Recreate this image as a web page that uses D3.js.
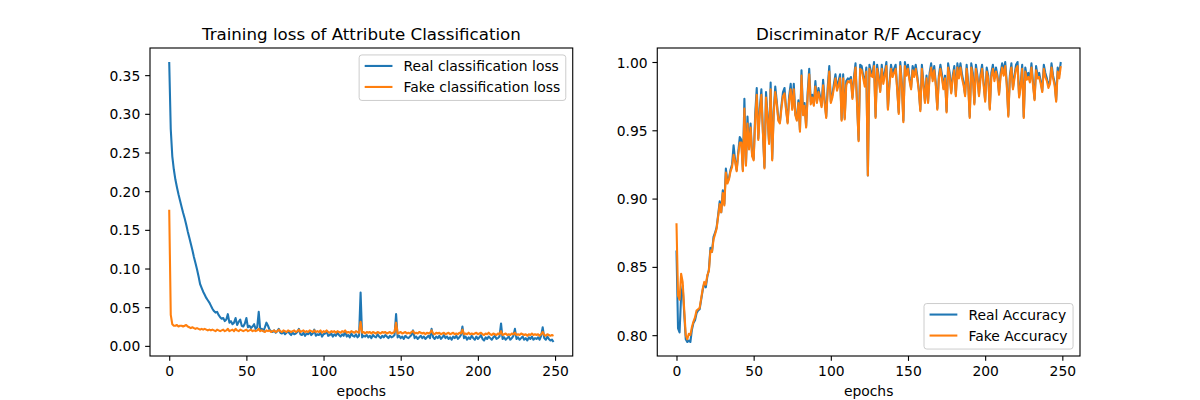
<!DOCTYPE html>
<html>
<head>
<meta charset="utf-8">
<script src="https://cdn.jsdelivr.net/npm/d3@7"></script>
<style>
  body { margin: 0; background: #fff; }
  svg { font-family: 'DejaVu Sans', sans-serif; }
</style>
</head>
<body>
<div id="graph-div"></div>
<script>
// values, one per epoch (0..249)
const realLoss = [
  0.367, 0.280, 0.245, 0.228, 0.215, 0.205, 0.196, 0.188, 0.180, 0.172,
  0.165, 0.157, 0.148, 0.140, 0.132, 0.124, 0.115, 0.107, 0.099, 0.090,
  0.080, 0.075, 0.070, 0.066, 0.062, 0.059, 0.056, 0.052, 0.048, 0.045,
  0.043, 0.044, 0.040, 0.037, 0.035, 0.036, 0.032, 0.034, 0.041, 0.030,
  0.032, 0.028, 0.030, 0.036, 0.027, 0.031, 0.034, 0.026, 0.025, 0.029,
  0.036, 0.024, 0.026, 0.023, 0.025, 0.028, 0.022, 0.024, 0.044, 0.020,
  0.022, 0.019, 0.024, 0.030, 0.026, 0.021, 0.019, 0.018, 0.020, 0.017,
  0.019, 0.022, 0.017, 0.016, 0.018, 0.015, 0.017, 0.019, 0.016, 0.014,
  0.017, 0.015, 0.016, 0.018, 0.022, 0.015, 0.014, 0.017, 0.013, 0.016,
  0.015, 0.018, 0.014, 0.016, 0.021, 0.013, 0.015, 0.014, 0.017, 0.012,
  0.015, 0.016, 0.019, 0.013, 0.014, 0.016, 0.012, 0.015, 0.013, 0.017,
  0.014, 0.012, 0.015, 0.013, 0.019, 0.012, 0.014, 0.011, 0.016, 0.013,
  0.012, 0.015, 0.011, 0.013, 0.069, 0.011, 0.013, 0.012, 0.014, 0.011,
  0.013, 0.010, 0.014, 0.012, 0.011, 0.015, 0.012, 0.010, 0.013, 0.011,
  0.014, 0.012, 0.010, 0.013, 0.011, 0.012, 0.014, 0.041, 0.011, 0.013,
  0.010, 0.012, 0.009, 0.013, 0.011, 0.010, 0.012, 0.014, 0.020, 0.010,
  0.012, 0.009, 0.011, 0.013, 0.010, 0.012, 0.009, 0.011, 0.013, 0.010,
  0.022, 0.011, 0.009, 0.012, 0.010, 0.013, 0.009, 0.011, 0.014, 0.010,
  0.012, 0.009, 0.011, 0.008, 0.012, 0.010, 0.013, 0.009, 0.011, 0.014,
  0.025, 0.010, 0.012, 0.008, 0.011, 0.009, 0.013, 0.010, 0.008, 0.012,
  0.009, 0.011, 0.014, 0.009, 0.007, 0.011, 0.009, 0.012, 0.010, 0.008,
  0.011, 0.013, 0.009, 0.010, 0.012, 0.029, 0.009, 0.011, 0.008, 0.010,
  0.012, 0.008, 0.010, 0.013, 0.022, 0.009, 0.011, 0.008, 0.010, 0.012,
  0.008, 0.010, 0.007, 0.011, 0.009, 0.012, 0.008, 0.010, 0.009, 0.011,
  0.008, 0.013, 0.024, 0.010, 0.008, 0.012, 0.009, 0.007, 0.008, 0.005
];

const fakeLoss = [
  0.176, 0.040, 0.028, 0.026, 0.026, 0.027, 0.025, 0.026, 0.026, 0.025,
  0.026, 0.027, 0.025, 0.024, 0.023, 0.024, 0.023, 0.022, 0.023, 0.022,
  0.021, 0.022, 0.021, 0.022, 0.021, 0.020, 0.021, 0.020, 0.021, 0.020,
  0.019, 0.021, 0.020, 0.019, 0.020, 0.021, 0.019, 0.020, 0.022, 0.019,
  0.020, 0.021, 0.019, 0.022, 0.020, 0.019, 0.021, 0.020, 0.019, 0.020,
  0.021, 0.019, 0.020, 0.021, 0.019, 0.020, 0.019, 0.020, 0.022, 0.019,
  0.020, 0.019, 0.018, 0.020, 0.019, 0.020, 0.018, 0.019, 0.020, 0.018,
  0.019, 0.021, 0.019, 0.018, 0.020, 0.019, 0.018, 0.020, 0.019, 0.018,
  0.019, 0.020, 0.018, 0.019, 0.021, 0.018, 0.019, 0.020, 0.018, 0.019,
  0.018, 0.020, 0.019, 0.018, 0.020, 0.018, 0.019, 0.018, 0.020, 0.017,
  0.019, 0.018, 0.020, 0.018, 0.017, 0.019, 0.018, 0.019, 0.017, 0.019,
  0.018, 0.017, 0.019, 0.018, 0.020, 0.017, 0.018, 0.017, 0.019, 0.018,
  0.017, 0.019, 0.018, 0.017, 0.031, 0.017, 0.018, 0.016, 0.018, 0.017,
  0.018, 0.016, 0.018, 0.017, 0.016, 0.018, 0.017, 0.016, 0.018, 0.017,
  0.018, 0.016, 0.017, 0.018, 0.016, 0.017, 0.018, 0.030, 0.016, 0.017,
  0.018, 0.016, 0.017, 0.018, 0.016, 0.017, 0.016, 0.018, 0.019, 0.016,
  0.017, 0.016, 0.018, 0.017, 0.016, 0.017, 0.015, 0.017, 0.016, 0.017,
  0.020, 0.016, 0.015, 0.017, 0.016, 0.017, 0.015, 0.016, 0.017, 0.015,
  0.016, 0.017, 0.015, 0.016, 0.017, 0.015, 0.016, 0.015, 0.017, 0.016,
  0.021, 0.015, 0.016, 0.015, 0.017, 0.015, 0.016, 0.015, 0.016, 0.017,
  0.015, 0.016, 0.017, 0.015, 0.014, 0.016, 0.015, 0.017, 0.015, 0.014,
  0.016, 0.015, 0.014, 0.016, 0.015, 0.019, 0.014, 0.015, 0.016, 0.014,
  0.015, 0.014, 0.016, 0.015, 0.017, 0.014, 0.015, 0.014, 0.016, 0.015,
  0.014, 0.015, 0.013, 0.015, 0.014, 0.016, 0.014, 0.015, 0.014, 0.015,
  0.013, 0.015, 0.018, 0.014, 0.013, 0.015, 0.014, 0.013, 0.014, 0.013
];

const realAcc = [
  0.862, 0.805, 0.802, 0.829, 0.836, 0.816, 0.797, 0.795, 0.796, 0.795,
  0.804, 0.809, 0.811, 0.816, 0.818, 0.819, 0.826, 0.833, 0.838, 0.835,
  0.843, 0.848, 0.864, 0.861, 0.872, 0.875, 0.879, 0.888, 0.898, 0.890,
  0.906, 0.896, 0.922, 0.912, 0.915, 0.921, 0.925, 0.939, 0.928, 0.921,
  0.934, 0.945, 0.943, 0.921, 0.973, 0.925, 0.960, 0.937, 0.955, 0.932,
  0.929, 0.962, 0.981, 0.944, 0.966, 0.980, 0.949, 0.923, 0.978, 0.961,
  0.941, 0.985, 0.929, 0.964, 0.982, 0.971, 0.958, 0.956, 0.968, 0.978,
  0.981, 0.966, 0.956, 0.975, 0.984, 0.966, 0.984, 0.962, 0.958, 0.972,
  0.950, 0.994, 0.962, 0.970, 0.953, 0.978, 0.995, 0.971, 0.976, 0.969,
  0.986, 0.971, 0.981, 0.975, 0.968, 0.987, 0.972, 0.960, 0.982, 0.997,
  0.971, 0.976, 0.984, 0.991, 0.981, 0.986, 0.991, 0.958, 0.991, 0.959,
  0.986, 0.988, 0.987, 0.989, 0.974, 0.989, 0.999, 0.970, 0.943, 0.998,
  0.997, 0.990, 0.984, 0.996, 0.917, 0.998, 0.993, 0.991, 1.000, 0.960,
  0.998, 0.990, 0.979, 0.998, 0.986, 0.993, 1.000, 0.966, 0.985, 0.998,
  0.991, 0.995, 0.998, 0.981, 0.963, 1.000, 0.985, 0.957, 1.000, 0.993,
  0.998, 0.988, 0.981, 0.997, 0.992, 0.998, 0.990, 0.980, 0.965, 0.998,
  0.985, 0.971, 0.990, 0.971, 0.992, 0.999, 0.988, 0.997, 0.985, 0.966,
  0.990, 0.998, 0.991, 0.981, 0.990, 0.964, 0.999, 0.992, 0.978, 0.990,
  0.997, 0.976, 0.999, 0.990, 0.999, 0.991, 0.985, 0.976, 0.998, 0.985,
  0.960, 0.999, 0.992, 0.970, 0.998, 0.990, 0.976, 0.991, 0.998, 0.985,
  0.972, 0.996, 0.990, 0.966, 0.992, 0.998, 0.988, 0.996, 0.990, 0.977,
  0.992, 0.999, 0.993, 1.000, 0.985, 0.961, 0.990, 0.999, 0.981, 0.990,
  0.998, 1.000, 0.975, 0.984, 0.998, 0.960, 0.996, 0.989, 0.992, 0.987,
  0.999, 0.985, 0.973, 0.997, 0.990, 0.992, 0.986, 0.979, 0.998, 0.992,
  0.988, 0.983, 0.986, 0.999, 0.990, 0.985, 0.972, 0.996, 0.991, 1.000
];

const fakeAcc = [
  0.882, 0.829, 0.826, 0.845, 0.839, 0.819, 0.800, 0.797, 0.801, 0.800,
  0.806, 0.810, 0.813, 0.818, 0.819, 0.820, 0.827, 0.834, 0.839, 0.837,
  0.844, 0.847, 0.862, 0.861, 0.870, 0.874, 0.878, 0.887, 0.896, 0.890,
  0.904, 0.895, 0.919, 0.911, 0.914, 0.920, 0.923, 0.932, 0.927, 0.920,
  0.932, 0.941, 0.941, 0.920, 0.966, 0.924, 0.955, 0.936, 0.952, 0.931,
  0.928, 0.958, 0.976, 0.943, 0.963, 0.976, 0.948, 0.922, 0.974, 0.959,
  0.940, 0.980, 0.928, 0.962, 0.978, 0.969, 0.957, 0.955, 0.966, 0.975,
  0.977, 0.965, 0.955, 0.972, 0.980, 0.965, 0.980, 0.961, 0.957, 0.970,
  0.949, 0.990, 0.961, 0.968, 0.952, 0.975, 0.991, 0.969, 0.974, 0.968,
  0.982, 0.970, 0.978, 0.973, 0.967, 0.983, 0.970, 0.959, 0.979, 0.993,
  0.970, 0.974, 0.981, 0.988, 0.979, 0.983, 0.988, 0.957, 0.988, 0.958,
  0.983, 0.986, 0.985, 0.987, 0.973, 0.987, 0.996, 0.969, 0.942, 0.995,
  0.994, 0.988, 0.982, 0.993, 0.917, 0.995, 0.990, 0.989, 0.997, 0.959,
  0.995, 0.988, 0.978, 0.995, 0.984, 0.990, 0.997, 0.965, 0.983, 0.995,
  0.989, 0.992, 0.995, 0.980, 0.962, 0.997, 0.983, 0.956, 0.997, 0.990,
  0.995, 0.986, 0.980, 0.994, 0.989, 0.995, 0.988, 0.979, 0.964, 0.995,
  0.983, 0.970, 0.988, 0.970, 0.989, 0.996, 0.986, 0.994, 0.983, 0.965,
  0.988, 0.995, 0.988, 0.980, 0.988, 0.963, 0.996, 0.989, 0.977, 0.988,
  0.994, 0.975, 0.996, 0.988, 0.996, 0.988, 0.983, 0.975, 0.995, 0.983,
  0.959, 0.996, 0.989, 0.969, 0.995, 0.988, 0.975, 0.988, 0.995, 0.983,
  0.971, 0.993, 0.988, 0.965, 0.989, 0.995, 0.986, 0.993, 0.988, 0.976,
  0.989, 0.996, 0.990, 0.997, 0.983, 0.960, 0.988, 0.996, 0.980, 0.988,
  0.995, 0.997, 0.974, 0.982, 0.995, 0.959, 0.993, 0.987, 0.989, 0.985,
  0.996, 0.983, 0.972, 0.994, 0.988, 0.989, 0.984, 0.978, 0.995, 0.989,
  0.986, 0.981, 0.984, 0.996, 0.988, 0.983, 0.971, 0.993, 0.988, 0.997
];

const epochTicks = [0, 50, 100, 150, 200, 250];
const lossTicks = [0.00, 0.05, 0.10, 0.15, 0.20, 0.25, 0.30, 0.35];
const accTicks = [0.80, 0.85, 0.90, 0.95, 1.00];
const lossLabels = ['Real classification loss', 'Fake classification loss'];
const accLabels = ['Real Accuracy', 'Fake Accuracy'];
const colors = ['#1f77b4', '#ff7f0e'];

const w = 1200;
const h = 400;
const pt = 100 / 72;            // matplotlib points -> px at dpi 100
const fontSize = 10 * pt;
const axTop = 48;
const axBottom = 356;
const axW = 930 / 2.2;

const svg = d3.select('#graph-div')
              .append('svg')
              .attr('width', w)
              .attr('height', h);

// matplotlib style limits: data range plus 5% margin
const padExtent = (arr) => {
    const [lo, hi] = d3.extent(arr);
    const m = (hi - lo) * 0.05;
    return [lo - m, hi + m];
}

const addPanel = (left, title, series, yTicks, labels, legendPos) => {
    const xScale = d3.scaleLinear()
                     .domain(padExtent(d3.range(series[0].length)))
                     .range([left, left + axW]);

    const yScale = d3.scaleLinear()
                     .domain(padExtent(series.flat()))
                     .range([axBottom, axTop]);

    const xAxis = d3.axisBottom(xScale)
                    .tickValues(epochTicks)
                    .tickSize(3.5 * pt)
                    .tickPadding(3.5 * pt)
                    .tickFormat(d3.format('d'));

    const yAxis = d3.axisLeft(yScale)
                    .tickValues(yTicks)
                    .tickSize(3.5 * pt)
                    .tickPadding(3.5 * pt)
                    .tickFormat(d3.format('.2f'));

    const gx = svg.append('g')
                  .attr('transform', 'translate(0,' + axBottom + ')')
                  .call(xAxis);
    const gy = svg.append('g')
                  .attr('transform', 'translate(' + left + ',0)')
                  .call(yAxis);

    [gx, gy].forEach(g => {
        g.select('.domain').remove();
        g.selectAll('.tick line').attr('stroke', '#000').attr('stroke-width', 0.8 * pt);
        g.selectAll('.tick text')
         .attr('fill', '#000')
         .style('font-family', 'DejaVu Sans')
         .style('font-size', fontSize + 'px');
    });
    gx.selectAll('.tick text').attr('dy', null).attr('y', 3.5 * pt * 2 + 10.2);
    gy.selectAll('.tick text').attr('dy', '0.36em');

    const line = d3.line()
                   .x((d, i) => xScale(i))
                   .y(d => yScale(d));

    series.forEach((s, k) => {
        svg.append('path')
           .datum(s)
           .attr('fill', 'none')
           .attr('stroke', colors[k])
           .attr('stroke-width', 1.5 * pt)
           .attr('stroke-linejoin', 'round')
           .attr('d', line);
    });

    // axes frame
    svg.append('rect')
       .attr('x', left)
       .attr('y', axTop)
       .attr('width', axW)
       .attr('height', axBottom - axTop)
       .attr('fill', 'none')
       .attr('stroke', '#000')
       .attr('stroke-width', 0.8 * pt);

    svg.append('text')
       .attr('x', left + axW / 2)
       .attr('y', axTop - 6 * pt)
       .attr('text-anchor', 'middle')
       .style('font-size', (12 * pt) + 'px')
       .text(title);

    svg.append('text')
       .attr('x', left + axW / 2)
       .attr('y', 395.7)
       .attr('text-anchor', 'middle')
       .style('font-size', fontSize + 'px')
       .text('epochs');

    addLegend(left, labels, legendPos);
}

const addLegend = (left, labels, legendPos) => {
    const legend = svg.append('g');
    const box = legend.append('rect')
                      .attr('rx', 0.2 * fontSize)
                      .attr('fill', 'rgba(255,255,255,0.8)')
                      .attr('stroke', '#cccccc')
                      .attr('stroke-width', 1);

    const pad = 0.4 * fontSize;
    const handle = 2 * fontSize;
    const textGap = 0.8 * fontSize;
    const rowH = 21;
    const boxH = 45.5;

    const texts = labels.map((d, i) => legend.append('text')
                                             .attr('x', pad + handle + textGap)
                                             .attr('y', 11 + i * rowH)
                                             .attr('dy', '0.36em')
                                             .style('font-size', fontSize + 'px')
                                             .text(d));

    labels.forEach((d, i) => {
        legend.append('line')
              .attr('x1', pad)
              .attr('x2', pad + handle)
              .attr('y1', 11 + i * rowH)
              .attr('y2', 11 + i * rowH)
              .attr('stroke', colors[i])
              .attr('stroke-width', 1.5 * pt);
    });

    const textW = d3.max(texts, t => t.node().getComputedTextLength());
    const boxW = pad + handle + textGap + textW + pad;
    box.attr('width', boxW).attr('height', boxH);

    const inset = 0.5 * fontSize;
    const x = left + axW - inset - boxW;
    const y = legendPos === 'upper' ? axTop + inset : axBottom - inset - boxH;
    legend.attr('transform', `translate(${x}, ${y})`);
}

addPanel(150, 'Training loss of Attribute Classification', [realLoss, fakeLoss], lossTicks, lossLabels, 'upper');
addPanel(150 + axW * 1.2, 'Discriminator R/F Accuracy', [realAcc, fakeAcc], accTicks, accLabels, 'lower');
</script>
</body>
</html>
